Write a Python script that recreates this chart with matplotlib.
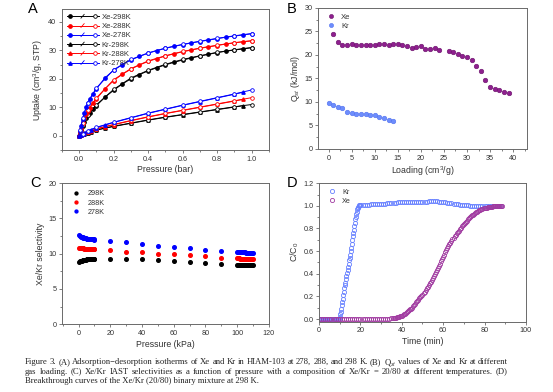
import numpy as np
import matplotlib
matplotlib.use("Agg")
import matplotlib.pyplot as plt
from matplotlib.lines import Line2D
from matplotlib.legend_handler import HandlerBase
from matplotlib.ticker import AutoMinorLocator, MultipleLocator

plt.rcParams['font.family'] = ['Liberation Sans', 'DejaVu Sans']
plt.rcParams['mathtext.fontset'] = 'custom'
plt.rcParams['mathtext.rm'] = 'Liberation Sans'
plt.rcParams['mathtext.it'] = 'Liberation Sans:italic'

# ---------- (A) isotherms ----------
xe_ads_p = [0, 0.005, 0.01, 0.02, 0.03, 0.04, 0.05, 0.06, 0.08, 0.1, 0.15, 0.2, 0.25, 0.3,
            0.35, 0.4, 0.45, 0.5, 0.55, 0.6, 0.65, 0.7, 0.75, 0.8, 0.85, 0.9, 0.95, 1.0]
xe298_ads = [0, 1.0, 2.0, 3.6, 5.0, 6.2, 7.2, 8.0, 9.4, 10.6, 13.6, 16.0, 18.2, 20.0,
             21.5, 22.8, 23.9, 24.9, 25.8, 26.6, 27.3, 28.0, 28.6, 29.2, 29.7, 30.1, 30.5, 30.9]
xe288_ads = [0, 1.3, 2.5, 4.5, 6.2, 7.6, 8.8, 9.8, 11.5, 13.0, 16.5, 19.4, 21.6, 23.4,
             24.9, 26.1, 27.1, 28.0, 28.8, 29.5, 30.1, 30.7, 31.2, 31.7, 32.2, 32.6, 33.0, 33.3]
xe278_ads = [0, 1.8, 3.4, 6.0, 8.2, 10.0, 11.5, 12.8, 14.8, 16.5, 20.4, 23.0, 25.0, 26.6,
             27.9, 29.0, 29.9, 30.7, 31.4, 32.0, 32.6, 33.1, 33.6, 34.1, 34.6, 35.0, 35.4, 35.8]
xe_des_p = [1.0, 0.9, 0.8, 0.7, 0.6, 0.5, 0.4, 0.3, 0.2, 0.1, 0.05, 0.02, 0.005]
xe298_des = [31.0, 30.2, 29.3, 28.1, 26.8, 25.1, 23.0, 20.3, 16.3, 10.9, 7.4, 3.7, 1.1]
xe288_des = [33.4, 32.7, 31.8, 30.8, 29.6, 28.1, 26.3, 23.6, 19.7, 13.3, 9.0, 4.6, 1.4]
xe278_des = [35.9, 35.1, 34.2, 33.2, 32.1, 30.8, 29.1, 26.8, 23.2, 16.8, 11.7, 6.1, 1.9]

kr_ads_p = [0, 0.01, 0.02, 0.03, 0.05, 0.07, 0.1, 0.15, 0.2, 0.3, 0.4, 0.5, 0.6, 0.7, 0.8, 0.9, 0.95]
kr298_ads = [0, 0.3, 0.5, 0.75, 1.1, 1.5, 2.0, 2.7, 3.3, 4.4, 5.5, 6.5, 7.4, 8.3, 9.2, 10.1, 10.6]
kr288_ads = [0, 0.35, 0.65, 0.9, 1.35, 1.8, 2.4, 3.2, 3.9, 5.3, 6.6, 7.8, 8.9, 10.0, 11.1, 12.2, 12.8]
kr278_ads = [0, 0.4, 0.8, 1.1, 1.7, 2.2, 2.9, 3.8, 4.7, 6.3, 7.9, 9.3, 10.7, 12.0, 13.3, 14.6, 15.3]
kr_des_p = [1.0, 0.9, 0.8, 0.7, 0.6, 0.5, 0.4, 0.3, 0.2, 0.1, 0.05, 0.02]
kr298_des = [11.0, 10.2, 9.3, 8.4, 7.5, 6.6, 5.6, 4.5, 3.4, 2.1, 1.2, 0.5]
kr288_des = [13.4, 12.3, 11.2, 10.1, 9.0, 7.9, 6.7, 5.4, 4.0, 2.5, 1.4, 0.7]
kr278_des = [16.1, 14.7, 13.4, 12.1, 10.8, 9.4, 8.0, 6.4, 4.8, 3.0, 1.8, 0.8]

# ---------- (B) Qst ----------
xe_load = [1, 2, 3, 4, 5, 6, 7, 8, 9, 10, 11, 12, 13, 14, 15, 16, 17, 18, 19, 20,
           21, 22, 23, 24, 26, 27, 28, 29, 30, 31, 32, 33, 34, 35, 36, 37, 38, 39]
xe_qst = [24.5, 22.7, 22.1, 22.0, 22.4, 22.1, 22.2, 22.1, 22.2, 22.1, 22.3, 22.4, 22.2, 22.3,
          22.3, 22.0, 21.8, 21.4, 21.6, 21.8, 21.3, 21.3, 21.4, 21.1, 20.9, 20.6, 20.2, 19.8,
          19.6, 18.9, 17.6, 16.6, 14.7, 13.2, 12.8, 12.5, 12.1, 11.9]
kr_load = [0, 1, 2, 3, 4, 5, 6, 7, 8, 9, 10, 11, 12, 13, 14]
kr_qst = [9.7, 9.3, 9.0, 8.8, 7.8, 7.6, 7.4, 7.5, 7.5, 7.2, 7.2, 6.9, 6.5, 6.1, 5.9]

# ---------- (C) IAST selectivity ----------
p_low = np.arange(0.5, 10.01, 0.5)
p_mid = [20, 30, 40, 50, 60, 70, 80, 90]
p_high = np.arange(100, 110.01, 0.5)
s298 = [8.85, 8.9, 8.95, 9.0, 9.05, 9.08, 9.1, 9.13, 9.15, 9.17, 9.19, 9.2, 9.22, 9.23, 9.24,
        9.25, 9.26, 9.27, 9.28, 9.29,
        9.27, 9.27, 9.17, 9.1, 9.0, 8.85, 8.65, 8.5,
        8.42, 8.42, 8.41, 8.41, 8.4, 8.4, 8.39, 8.39, 8.38, 8.38, 8.37, 8.37, 8.36, 8.36, 8.35,
        8.35, 8.34, 8.34, 8.33, 8.33, 8.32]
s288 = [10.8, 10.78, 10.76, 10.75, 10.74, 10.73, 10.72, 10.71, 10.7, 10.7, 10.69, 10.68, 10.68,
        10.67, 10.67, 10.66, 10.66, 10.65, 10.65, 10.64,
        10.5, 10.3, 10.2, 10.0, 9.9, 9.75, 9.6, 9.45,
        9.32, 9.32, 9.31, 9.31, 9.3, 9.3, 9.29, 9.29, 9.28, 9.28, 9.27, 9.27, 9.26, 9.26, 9.25,
        9.25, 9.24, 9.24, 9.23, 9.23, 9.22]
s278 = [12.6, 12.5, 12.42, 12.36, 12.3, 12.26, 12.22, 12.19, 12.16, 12.14, 12.12, 12.1, 12.08,
        12.06, 12.05, 12.04, 12.03, 12.02, 12.01, 12.0,
        11.8, 11.6, 11.4, 11.15, 10.97, 10.73, 10.54, 10.4,
        10.22, 10.21, 10.21, 10.2, 10.2, 10.19, 10.18, 10.18, 10.17, 10.17, 10.16, 10.15, 10.15,
        10.14, 10.14, 10.13, 10.12, 10.12, 10.11, 10.11, 10.1]

# ---------- (D) breakthrough ----------
t_kr = np.concatenate([np.arange(0, 10, 0.5), np.arange(10, 20.01, 0.25), np.arange(21, 89, 1)])
c_kr = ([0.0] * 20 +
        [0.02, 0.04, 0.06, 0.09, 0.12, 0.15, 0.18, 0.21, 0.24, 0.27, 0.30, 0.32, 0.35, 0.38,
         0.41, 0.43, 0.46, 0.49, 0.52, 0.54, 0.57, 0.60, 0.63, 0.66, 0.70, 0.73, 0.76, 0.79,
         0.82, 0.85, 0.88, 0.90, 0.93, 0.95, 0.97, 0.98, 0.99, 1.0, 1.005, 1.01, 1.01] +
        [1.01, 1.01, 1.01, 1.012, 1.015, 1.015, 1.015, 1.018, 1.018, 1.02,
         1.02, 1.02, 1.022, 1.022, 1.025, 1.025, 1.028, 1.03, 1.03, 1.032,
         1.033, 1.035, 1.035, 1.036, 1.036, 1.035, 1.035, 1.034, 1.034, 1.035,
         1.036, 1.038, 1.04, 1.04, 1.042, 1.04, 1.04, 1.038, 1.036, 1.033,
         1.03, 1.028, 1.025, 1.022, 1.02, 1.018, 1.015, 1.012, 1.01, 1.008,
         1.006, 1.004, 1.003, 1.002, 1.0, 1.0, 1.0, 0.998, 0.998, 0.998,
         0.998, 0.999, 1.0, 1.0, 1.0, 1.0, 1.0, 1.0])
t_xe = np.concatenate([np.arange(0, 35, 1), np.arange(35, 88.6, 0.5)])
c_xe = ([0.0] * 35 +
        [0.005, 0.006, 0.008, 0.01, 0.012, 0.014, 0.017, 0.02, 0.023, 0.026, 0.03, 0.035,
         0.04, 0.047, 0.055, 0.062, 0.07, 0.077, 0.085, 0.092, 0.10, 0.112, 0.125, 0.137,
         0.15, 0.16, 0.17, 0.182, 0.195, 0.205, 0.215, 0.227, 0.24, 0.255, 0.27, 0.285,
         0.30, 0.315, 0.33, 0.347, 0.365, 0.38, 0.395, 0.412, 0.43, 0.45, 0.47, 0.49,
         0.51, 0.53, 0.55, 0.57, 0.59, 0.607, 0.625, 0.642, 0.66, 0.675, 0.69, 0.705,
         0.72, 0.732, 0.745, 0.757, 0.77, 0.782, 0.795, 0.807, 0.82, 0.83, 0.84, 0.85,
         0.86, 0.87, 0.88, 0.89, 0.90, 0.907, 0.915, 0.922, 0.93, 0.937, 0.945, 0.95,
         0.955, 0.96, 0.965, 0.97, 0.975, 0.977, 0.98, 0.982, 0.985, 0.987, 0.99, 0.991,
         0.993, 0.994, 0.996, 0.997, 0.998, 0.999, 1.0, 1.0, 1.0, 1.0, 1.0, 1.0])

caption = ["Figure 3. (A) Adsorption\u2212desorption isotherms of Xe and Kr in HIAM-103 at 278, 288, and 298 K. (B) Q$_{st}$ values of Xe and Kr at different",
           "gas loading. (C) Xe/Kr IAST selectivities as a function of pressure with a composition of Xe/Kr = 20/80 at different temperatures. (D)",
           "Breakthrough curves of the Xe/Kr (20/80) binary mixture at 298 K."]

GRAY = '#6a6a6a'
TXT = '#333333'


def style(ax):
    for s in ax.spines.values():
        s.set_color(GRAY)
        s.set_linewidth(0.7)
    ax.tick_params(which='both', direction='out', colors=GRAY, labelcolor=TXT,
                   labelsize=5.2, width=0.6, pad=1.5)
    ax.tick_params(which='major', length=2.5)
    ax.tick_params(which='minor', length=1.5)
    ax.xaxis.set_minor_locator(AutoMinorLocator(2))
    ax.yaxis.set_minor_locator(AutoMinorLocator(2))


class SlashHandler(HandlerBase):
    def create_artists(self, legend, orig, xd, yd, w, h, fontsize, trans):
        c = orig.get_color()
        y = h / 2 - yd
        x0, x1 = -xd, w - xd
        art = [Line2D([x0, x1], [y, y], color=c, lw=0.7),
               Line2D([x0 + 0.12 * w], [y], marker=orig.get_marker(), color=c, ms=2.4, ls='none'),
               Line2D([x0 + 0.88 * w], [y], marker='o', mfc='white', mec=c, mew=0.6, ms=2.6, ls='none'),
               Line2D([x0 + 0.45 * w, x0 + 0.55 * w], [y - 0.35 * h, y + 0.35 * h], color=c, lw=0.6)]
        for a in art:
            a.set_transform(trans)
        return art


fig = plt.figure(figsize=(5.53, 3.92), dpi=100)
axA = fig.add_axes([0.112, 0.617, 0.374, 0.360])
axB = fig.add_axes([0.575, 0.620, 0.378, 0.360])
axC = fig.add_axes([0.112, 0.173, 0.374, 0.360])
axD = fig.add_axes([0.577, 0.179, 0.374, 0.355])

# A
sets = [('Xe-298K', 'black', 'o', xe_ads_p, xe298_ads, xe_des_p, xe298_des),
        ('Xe-288K', 'red', 'o', xe_ads_p, xe288_ads, xe_des_p, xe288_des),
        ('Xe-278K', 'blue', 'o', xe_ads_p, xe278_ads, xe_des_p, xe278_des),
        ('Kr-298K', 'black', '^', kr_ads_p, kr298_ads, kr_des_p, kr298_des),
        ('Kr-288K', 'red', '^', kr_ads_p, kr288_ads, kr_des_p, kr288_des),
        ('Kr-278K', 'blue', '^', kr_ads_p, kr278_ads, kr_des_p, kr278_des)]
handles = []
for lab, c, mk, pa, ua, pd, ud in sets:
    axA.plot(pa, ua, color=c, marker=mk, ms=2.4, lw=0.7)
    axA.plot(pd, ud, color=c, marker='o', ms=2.6, mfc='white', mew=0.6, lw=0.7)
    handles.append(Line2D([], [], color=c, marker=mk, label=lab))
axA.legend(handles=handles, handler_map={Line2D: SlashHandler()}, loc='upper left',
           frameon=False, fontsize=5.5, handlelength=4.2, handletextpad=0.4,
           labelspacing=0.25, borderaxespad=0.2, labelcolor=TXT)
axA.set_xlim(-0.1, 1.1)
axA.set_ylim(-5, 44.5)
axA.xaxis.set_major_locator(MultipleLocator(0.2))
axA.yaxis.set_major_locator(MultipleLocator(10))
axA.set_xlabel('Pressure (bar)', fontsize=6.3, color=TXT, labelpad=2)
axA.set_ylabel('Uptake (cm$^3$/g, STP)', fontsize=6.3, color=TXT, labelpad=2)
style(axA)

# B
axB.plot(xe_load, xe_qst, 'o', color='#8e1f8e', mec='#6a106a', mew=0.4, ms=3.3, ls='none', label='Xe')
axB.plot(kr_load, kr_qst, 'o', color='#6d8dfc', mec='#5070f0', mew=0.4, ms=3.3, ls='none', label='Kr')
axB.legend(loc='upper left', frameon=False, fontsize=5.5, handletextpad=0.3,
           labelspacing=0.3, borderaxespad=0.3, labelcolor=TXT, markerscale=0.9)
axB.set_xlim(-2.3, 43)
axB.set_ylim(0, 30)
axB.xaxis.set_major_locator(MultipleLocator(5))
axB.yaxis.set_major_locator(MultipleLocator(5))
axB.set_xlabel('Loading (cm$^3$/g)', fontsize=6.3, color=TXT, labelpad=2)
axB.set_ylabel('Q$_{st}$ (kJ/mol)', fontsize=6.3, color=TXT, labelpad=2)
style(axB)

# C
p_all = np.concatenate([p_low, p_mid, p_high])
for lab, c, s in [('298K', 'black', s298), ('288K', 'red', s288), ('278K', 'blue', s278)]:
    axC.plot(p_all, s, 'o', color=c, ms=2.6, ls='none', label=lab)
axC.legend(loc='upper left', frameon=False, fontsize=5.2, handletextpad=0.5,
           labelspacing=0.3, borderaxespad=0.6, labelcolor=TXT, markerscale=0.8)
axC.set_xlim(-10.5, 120)
axC.set_ylim(0, 20)
axC.xaxis.set_major_locator(MultipleLocator(20))
axC.yaxis.set_major_locator(MultipleLocator(5))
axC.set_xlabel('Pressure (kPa)', fontsize=6.3, color=TXT, labelpad=2)
axC.set_ylabel('Xe/Kr selectivity', fontsize=6.3, color=TXT, labelpad=2)
style(axC)

# D
axD.plot(t_kr, c_kr, 'o', mfc='none', mec='#6680ff', mew=0.6, ms=3.0, ls='none', label='Kr')
axD.plot(t_xe, c_xe, 'o', mfc='none', mec='#a03aa0', mew=0.6, ms=3.0, ls='none', label='Xe')
axD.legend(loc='upper left', frameon=False, fontsize=5.2, handletextpad=0.4,
           labelspacing=0.3, borderaxespad=0.4, labelcolor=TXT)
axD.set_xlim(0, 100)
axD.set_ylim(-0.025, 1.205)
axD.xaxis.set_major_locator(MultipleLocator(20))
axD.yaxis.set_major_locator(MultipleLocator(0.2))
axD.yaxis.set_major_formatter(matplotlib.ticker.FormatStrFormatter('%.1f'))
axD.set_xlabel('Time (min)', fontsize=6.3, color=TXT, labelpad=2)
axD.set_ylabel('C/C$_0$', fontsize=6.3, color=TXT, labelpad=2)
style(axD)

# panel letters
for x, y, t in [(0.051, 0.995, 'A'), (0.519, 0.995, 'B'), (0.054, 0.552, 'C'), (0.519, 0.552, 'D')]:
    fig.text(x, y, t, fontsize=10.5, ha='left', va='top', color='black')

# caption, first two lines justified
W = 553
renderer = fig.canvas.get_renderer()
x_left, x_right = 25, 508
for i, line in enumerate(caption):
    y = 1 - (362 + 9.6 * i) / 392
    kw = dict(fontsize=6.2, family='Liberation Serif', ha='left', va='center',
              color='#222222', math_fontfamily='stix')
    if i == len(caption) - 1:
        fig.text(x_left / W, y, line, **kw)
        continue
    words = line.split(' ')
    arts = [fig.text(0, y, w, **kw) for w in words]
    widths = [a.get_window_extent(renderer).width for a in arts]
    gap = (x_right - x_left - sum(widths)) / (len(words) - 1)
    x = x_left
    for a, wd in zip(arts, widths):
        a.set_x(x / W)
        x += wd + gap

fig.savefig('out.png', dpi=100)
